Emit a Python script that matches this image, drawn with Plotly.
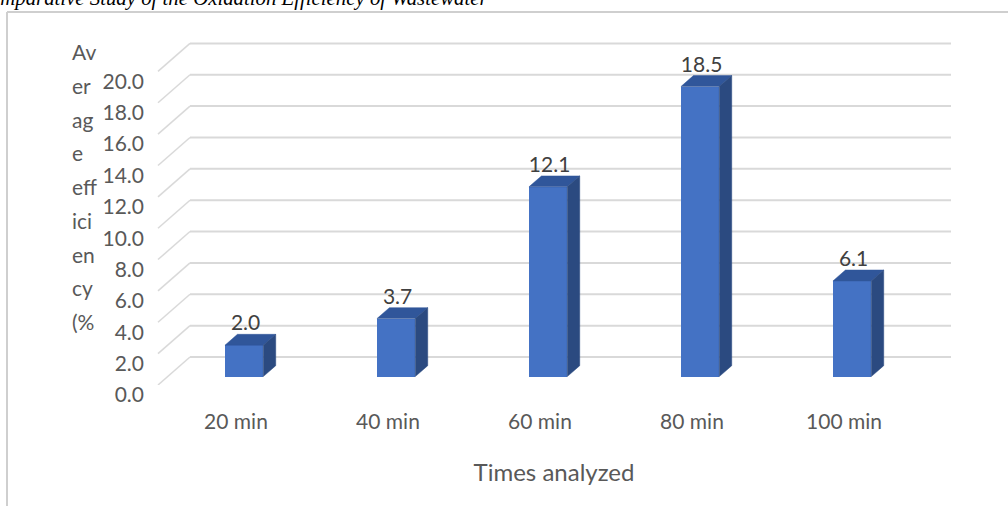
import plotly.graph_objects as go

# ---------------- data ----------------
categories = ["20 min", "40 min", "60 min", "80 min", "100 min"]
values = [2.0, 3.7, 12.1, 18.5, 6.1]
y_ticks = [0, 2, 4, 6, 8, 10, 12, 14, 16, 18, 20]
y_title_lines = ["Av", "er", "ag", "e", "eff", "ici", "en", "cy", "(%"]
x_title = "Times analyzed"
doc_title = "Comparative Study of the Oxidation Efficiency of Wastewater"

# ---------------- geometry (pixels -> data units) ----------------
FW, FH = 1008, 506
L, R, T, B = 150, 50, 30, 121
W, H = FW - L - R, FH - T - B
CAT_PX = 152.0          # pixels per category
CAT0_PX = 236.0         # pixel of category 0 (front plane)
VAL_PX = 15.68          # pixels per value unit
xmin = (L - CAT0_PX) / CAT_PX
xmax = (L + W - CAT0_PX) / CAT_PX
ymax = H / VAL_PX

DX = 32.0 / CAT_PX      # full depth offset (x, in category units)
DY = 28.0 / VAL_PX      # full depth offset (y, in value units)
D0 = 0.30               # depth of bar front face
BD = 0.39               # bar depth
HALF = 19.15 / CAT_PX   # half bar width
WALL_RIGHT = (951 - CAT0_PX) / CAT_PX
FRONT_LEFT = (158 - CAT0_PX) / CAT_PX

FRONT = "#4472C4"
TOP = "#30569A"
SIDE = "#2B4A80"
GRID = "#D9D9D9"
FONT = "Lato"

def pxx(px):
    return (px - L) / W

def pxy(py):
    return (T + H - py) / H

fig = go.Figure()

# gridlines: back wall + left side wall diagonals
shapes = []
for v in y_ticks:
    shapes.append(dict(type="line", xref="x", yref="y", layer="below",
                       x0=FRONT_LEFT + DX, y0=v + DY, x1=WALL_RIGHT, y1=v + DY,
                       line=dict(color=GRID, width=2)))
    shapes.append(dict(type="line", xref="x", yref="y", layer="below",
                       x0=FRONT_LEFT, y0=v, x1=FRONT_LEFT + DX, y1=v + DY,
                       line=dict(color=GRID, width=1.5)))

# top and side faces
top_x, top_y, side_x, side_y = [], [], [], []
for i, v in enumerate(values):
    xl = i - HALF + D0 * DX - 1.5 / CAT_PX
    xr = i + HALF + D0 * DX - 1.5 / CAT_PX
    yb = D0 * DY
    yt = D0 * DY + v
    top_x += [xl, xr, xr + BD * DX, xl + BD * DX, xl, None]
    top_y += [yt, yt, yt + BD * DY, yt + BD * DY, yt, None]
    side_x += [xr, xr, xr + BD * DX, xr + BD * DX, xr, None]
    side_y += [yb, yt, yt + BD * DY, yb + BD * DY, yb, None]

fig.add_trace(go.Scatter(x=top_x, y=top_y, mode="lines", fill="toself",
                         fillcolor=TOP, line=dict(color=TOP, width=0.5),
                         hoverinfo="skip", showlegend=False))
fig.add_trace(go.Scatter(x=side_x, y=side_y, mode="lines", fill="toself",
                         fillcolor=SIDE, line=dict(color=SIDE, width=0.5),
                         hoverinfo="skip", showlegend=False))

# front faces
fig.add_trace(go.Bar(x=[i + D0 * DX - 1.5 / CAT_PX for i in range(len(values))], y=values,
                     base=[D0 * DY] * len(values), width=2 * HALF,
                     marker=dict(color=FRONT, line=dict(width=0)),
                     showlegend=False))

# data labels
fig.add_trace(go.Scatter(x=[i + D0 * DX for i in range(len(values))],
                         y=[D0 * DY + v + 20 / VAL_PX for v in values],
                         mode="text", text=[f"{v:.1f}" for v in values],
                         textposition="middle center",
                         textfont=dict(family=FONT, size=21, color="#404040"),
                         hoverinfo="skip", showlegend=False, cliponaxis=False))

# frame of the document chart box
shapes.append(dict(type="line", xref="paper", yref="paper",
                   x0=pxx(7), y0=pxy(12), x1=pxx(1008), y1=pxy(12),
                   line=dict(color="#CFCFCF", width=2)))
shapes.append(dict(type="line", xref="paper", yref="paper",
                   x0=pxx(7), y0=pxy(12), x1=pxx(7), y1=pxy(506),
                   line=dict(color="#CFCFCF", width=2)))

annotations = []
for k, line in enumerate(y_title_lines):
    annotations.append(dict(text=line, xref="paper", yref="paper",
                            x=pxx(70), y=pxy(51.7 + 33.75 * k),
                            xanchor="left", yanchor="middle", showarrow=False,
                            font=dict(family=FONT, size=21, color="#595959")))
annotations.append(dict(text="<i>" + doc_title + "</i>", xref="paper", yref="paper",
                        x=pxx(490), y=pxy(-2), xanchor="right", yanchor="middle",
                        showarrow=False,
                        font=dict(family="Liberation Serif", size=20.8, color="#000000")))

fig.update_layout(
    width=FW, height=FH,
    margin=dict(l=L, r=R, t=T, b=B),
    paper_bgcolor="white", plot_bgcolor="white",
    shapes=shapes, annotations=annotations,
    bargap=0,
    xaxis=dict(range=[xmin, xmax], tickvals=list(range(len(categories))),
               ticktext=categories, showgrid=False, zeroline=False, showline=False,
               ticks="", ticklabelstandoff=22,
               tickfont=dict(family=FONT, size=21, color="#595959"),
               title=dict(text=x_title, standoff=32,
                          font=dict(family=FONT, size=24, color="#595959")),
               automargin=False, fixedrange=True),
    yaxis=dict(range=[0, ymax], tickvals=y_ticks,
               ticktext=[f"{v:.1f}" for v in y_ticks],
               showgrid=False, zeroline=False, showline=False, ticks="",
               ticklabelstandoff=5, ticklabelshift=10,
               tickfont=dict(family=FONT, size=21, color="#595959"),
               automargin=False, fixedrange=True),
)

fig.write_html("out.html", config={"displayModeBar": False},
               post_script="document.body.style.margin='0';document.body.style.overflow='hidden';")
